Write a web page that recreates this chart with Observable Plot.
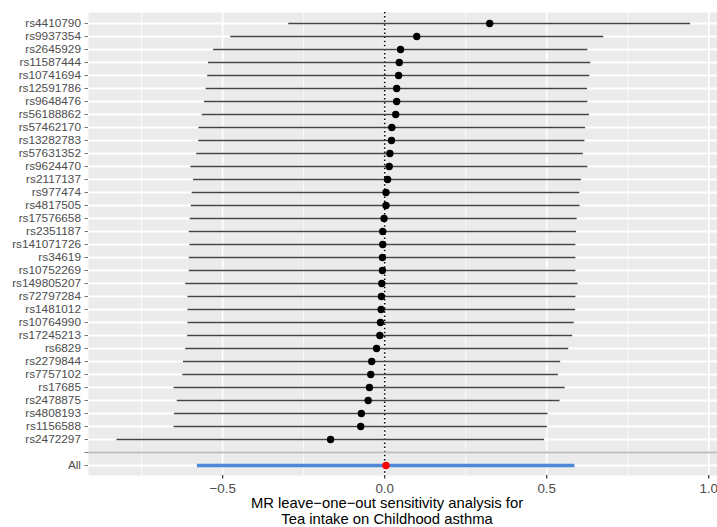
<!DOCTYPE html>
<html><head><meta charset="utf-8">
<script src="https://cdn.jsdelivr.net/npm/d3@7"></script>
<script src="https://cdn.jsdelivr.net/npm/@observablehq/plot@0.6"></script>
<style>
html,body{margin:0;padding:0;background:#fff;overflow:hidden;}
#chart svg{display:block;}
#cap{width:774px;margin-top:0;text-align:center;font-family:"Liberation Sans",Arial,sans-serif;font-size:14.8px;line-height:15.5px;color:#000;}
</style></head><body>
<div id="chart"></div>
<div id="cap"></div>
<script>
const snps = ["rs4410790","rs9937354","rs2645929","rs11587444","rs10741694","rs12591786","rs9648476","rs56188862","rs57462170","rs13282783","rs57631352","rs9624470","rs2117137","rs977474","rs4817505","rs17576658","rs2351187","rs141071726","rs34619","rs10752269","rs149805207","rs72797284","rs1481012","rs10764990","rs17245213","rs6829","rs2279844","rs7757102","rs17685","rs2478875","rs4808193","rs1156588","rs2472297"];
const b  = [0.324,0.099,0.049,0.045,0.043,0.037,0.037,0.034,0.022,0.021,0.016,0.014,0.009,0.004,0.004,-0.002,-0.006,-0.006,-0.007,-0.007,-0.009,-0.010,-0.011,-0.013,-0.015,-0.025,-0.040,-0.043,-0.047,-0.051,-0.072,-0.074,-0.167];
const lo = [-0.296,-0.475,-0.528,-0.544,-0.546,-0.551,-0.556,-0.563,-0.573,-0.574,-0.580,-0.598,-0.590,-0.594,-0.597,-0.600,-0.603,-0.601,-0.603,-0.603,-0.614,-0.607,-0.607,-0.607,-0.608,-0.614,-0.621,-0.623,-0.650,-0.640,-0.649,-0.650,-0.826];
const up = [0.944,0.676,0.627,0.636,0.633,0.626,0.627,0.632,0.620,0.618,0.613,0.627,0.607,0.602,0.603,0.594,0.592,0.590,0.590,0.590,0.597,0.590,0.589,0.585,0.580,0.568,0.543,0.536,0.557,0.541,0.504,0.502,0.493];
const allLabel = "All";
const allB = 0.004, allLo = -0.578, allUp = 0.587;
const xTicks = [-0.5, 0, 0.5, 1.0];
const xMinor = [-0.75, -0.25, 0.25, 0.75];
const titleLines = ["MR leave\u2212one\u2212out sensitivity analysis for", "Tea intake on Childhood asthma"];

const yDomain = [...snps, "", allLabel];
const data = snps.map((s, i) => ({snp: s, b: b[i], lo: lo[i], up: up[i]}));
const all = [{snp: allLabel, b: allB, lo: allLo, up: allUp}];

const chart = Plot.plot({
  width: 717,
  height: 496,
  marginLeft: 88,
  marginRight: 0,
  marginTop: 12,
  marginBottom: 21,
  style: {fontFamily: "'Liberation Sans', Arial, sans-serif", background: "#fff"},
  x: {domain: [-0.914, 1.027]},
  y: {type: "point", domain: yDomain, padding: 0.6},
  marks: [
    Plot.frame({fill: "#ebebeb", stroke: null}),
    Plot.ruleX(xMinor, {stroke: "#fff", strokeWidth: 0.8}),
    Plot.ruleX(xTicks, {stroke: "#fff", strokeWidth: 1.6}),
    Plot.ruleY(yDomain, {stroke: "#fff", strokeWidth: 1.8}),
    Plot.ruleX([0], {stroke: "#000", strokeWidth: 1.5, strokeDasharray: "1.5,2.6"}),
    Plot.ruleY(data, {y: "snp", x1: "lo", x2: "up", stroke: "#444", strokeWidth: 1.4}),
    Plot.ruleY(all, {y: "snp", x1: "lo", x2: "up", stroke: "#4f88d8", strokeWidth: 3.5}),
    Plot.ruleY([""], {stroke: "#bebebe", strokeWidth: 1.8}),
    Plot.dot(data, {x: "b", y: "snp", r: 3.7, fill: "#000", stroke: null}),
    Plot.dot(all, {x: "b", y: "snp", r: 3.7, fill: "#ff0000", stroke: null}),
    Plot.axisY({tickSize: 3.5, tickPadding: 4, fontSize: 11.8, stroke: "#555", strokeWidth: 0.8, fill: "#4d4d4d", label: null}),
    Plot.axisX({ticks: xTicks, tickSize: 3.5, tickPadding: 4, fontSize: 13.4, stroke: "#333", strokeWidth: 1.2, fill: "#4d4d4d", label: null,
      tickFormat: d => d.toFixed(1).replace("-", "\u2212")})
  ]
});
document.getElementById("chart").appendChild(chart);
document.getElementById("cap").innerHTML = titleLines.join("<br>");
</script>
</body></html>
